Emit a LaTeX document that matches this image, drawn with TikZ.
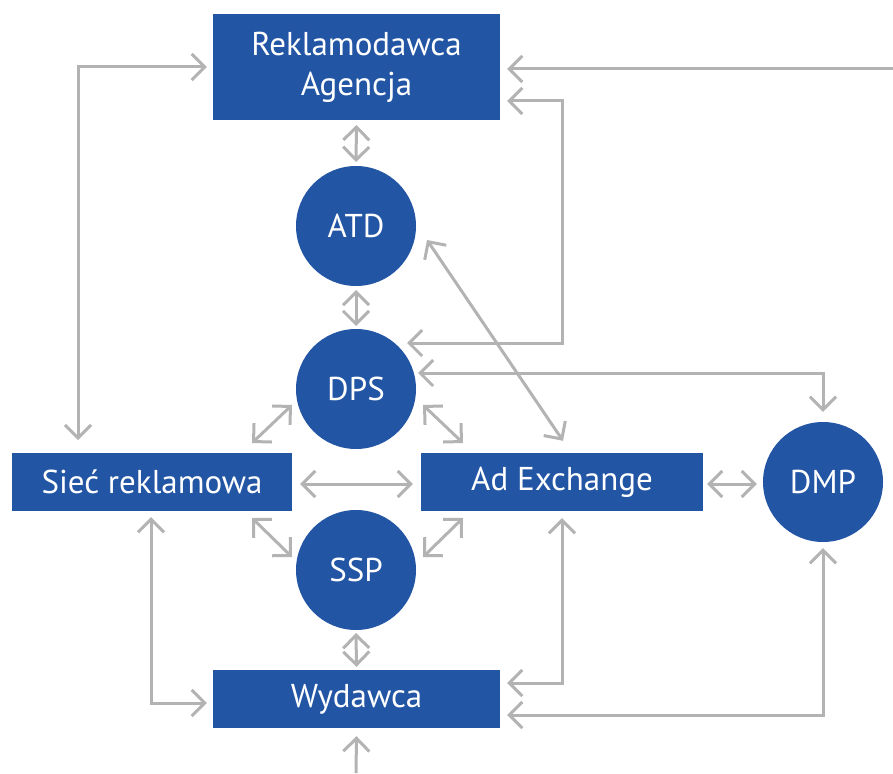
\documentclass[tikz,border=0pt]{standalone}
\usepackage{fontspec}
\setmainfont{PT Sans}
\usetikzlibrary{arrows.meta,calc}
\definecolor{boxblue}{HTML}{2355A5}
\definecolor{linkgray}{HTML}{B3B3B3}
\tikzset{
  block/.style={fill=boxblue, text=white, inner sep=0pt, align=center,
    font=\fontsize{33}{40}\selectfont},
  hub/.style={circle, fill=boxblue, text=white, inner sep=0pt,
    minimum size=120pt, font=\fontsize{33}{40}\selectfont},
  link/.style={draw=linkgray, line width=3pt,
    arrows={Straight Barb[length=13pt,width=26pt]-Straight Barb[length=13pt,width=26pt]}},
  onelink/.style={draw=linkgray, line width=3pt,
    arrows={-Straight Barb[length=13pt,width=26pt]}}
}
\begin{document}
\begin{tikzpicture}[x=1pt,y=-1pt]
\useasboundingbox (0,0) rectangle (893,773);

% blocks
\node[block, minimum width=287pt, minimum height=106pt] (rek) at (356.5,67) {Reklamodawca\\Agencja};
\node[block, minimum width=280pt, minimum height=58pt] (sie) at (152,482) {Sieć reklamowa};
\node[block, minimum width=282pt, minimum height=58pt] (adx) at (562,482) {Ad Exchange};
\node[block, minimum width=287pt, minimum height=58pt] (wyd) at (356.5,699) {Wydawca};

% hubs
\node[hub] (atd) at (356,226) {ATD};
\node[hub] (dps) at (356,389) {DPS};
\node[hub] (ssp) at (356,570) {SSP};
\node[hub] (dmp) at (823,482) {DMP};

% free ends
\coordinate (feed) at (893,69);
\coordinate (src) at (356,773);

% vertical chain
\draw[link] ($(rek)+(0,58)$) -- ($(atd)+(0,-64)$);
\draw[link] ($(atd)+(0,64)$) -- ($(dps)+(0,-63)$);
\draw[link] ($(ssp)+(0,63)$) -- ($(wyd.north)+(0,-3)$);
\draw[onelink] (src) -- ($(wyd.south)+(0,8)$);

% into the advertiser
\draw[link] ($(sie)+(-74,-42)$) |- ($(rek.west)+(-6,0)$);
\draw[onelink] (feed) -- ($(rek.east)+(7,2)$);
\draw[link] ($(dps)+(51,-46)$) -| ($(rek.east)+(62,34)$) -- ($(rek.east)+(7,34)$);

% DPS links
\draw[link] ($(dps)+(62,-16)$) -| ($(dmp.north)+(0,-10)$);
\draw[link] ($(atd)+(71,14)$) -- ($(adx.north)+(1,-12)$);
\draw[link] ($(dps)+(-64,16)$) -- ($(dps)+(-104,54)$);
\draw[link] ($(dps)+(67,16)$) -- ($(dps)+(107,54)$);

% middle row
\draw[link] ($(sie.east)+(8,2)$) -- ($(adx.west)+(-8,2)$);
\draw[link] ($(adx.east)+(4,2)$) -- ($(dmp.west)+(-6,2)$);

% SSP links
\draw[link] ($(ssp)+(-104,-52)$) -- ($(ssp)+(-64,-13)$);
\draw[link] ($(ssp)+(67,-13)$) -- ($(ssp)+(107,-52)$);

% into the publisher
\draw[link] ($(sie.south)+(-1,6)$) |- ($(wyd.west)+(-6,4)$);
\draw[link] ($(adx.south)+(0,7)$) |- ($(wyd.east)+(7,-16)$);
\draw[link] ($(dmp.south)+(0,6)$) |- ($(wyd.east)+(7,16)$);
\end{tikzpicture}
\end{document}
